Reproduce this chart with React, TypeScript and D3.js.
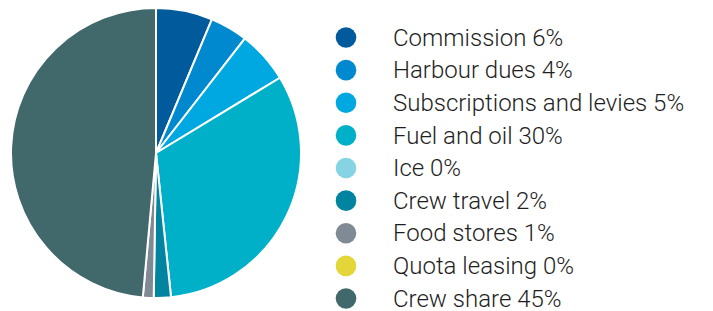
import React, { useEffect, useRef } from 'react';
import * as d3 from 'd3';

const categories = [
  'Commission', 'Harbour dues', 'Subscriptions and levies', 'Fuel and oil', 'Ice',
  'Crew travel', 'Food stores', 'Quota leasing', 'Crew share',
];
const shares = [6.3, 4.2, 5.8, 32.0, 0, 1.9, 1.2, 0, 48.5];
const shareLabels = ['6%', '4%', '5%', '30%', '0%', '2%', '1%', '0%', '45%'];
const colors = [
  '#005a9c', '#0089cf', '#00a8e1', '#00b0c8', '#86d3e3',
  '#00849f', '#7f8a94', '#e2d638', '#41686b',
];

const App: React.FC = () => {
  const svgRef = useRef<SVGSVGElement>(null);

  useEffect(() => {
    if (!svgRef.current) return;
    const svg = d3.select(svgRef.current);
    svg.selectAll('*').remove();

    const cx = 156;
    const cy = 153;
    const r = 145;

    const data = categories.map((name, i) => ({ name, value: shares[i], color: colors[i] }));

    const pie = d3.pie<any>().sort(null).value(d => d.value);
    const arc = d3.arc<any>().innerRadius(0).outerRadius(r);

    const g = svg.append('g').attr('transform', `translate(${cx},${cy})`);
    g.selectAll('path')
      .data(pie(data).filter(d => d.data.value > 0))
      .join('path')
      .attr('d', arc)
      .attr('fill', d => d.data.color)
      .attr('stroke', '#fff')
      .attr('stroke-width', 2)
      .attr('stroke-linejoin', 'round');

    // legend
    const rowY = d3.scaleLinear().domain([0, categories.length - 1]).range([37.5, 298.5]);
    const legend = svg.append('g');
    const rows = legend.selectAll('g')
      .data(data)
      .join('g')
      .attr('transform', (_, i) => `translate(346,${rowY(i)})`);

    rows.append('circle')
      .attr('r', 10.3)
      .attr('fill', d => d.color);

    rows.append('text')
      .attr('x', 47)
      .attr('y', 8.2)
      .text((d, i) => `${d.name} ${shareLabels[i]}`)
      .attr('fill', '#1e1e1e')
      .style('font-family', 'Roboto, sans-serif')
      .style('font-weight', 300)
      .style('font-size', '24px');
  }, []);

  return (
    <div style={{ position: 'absolute', left: 0, top: 0, width: 713, height: 311, background: '#fff' }}>
      <svg ref={svgRef} width={713} height={311} style={{ display: 'block' }} />
    </div>
  );
};

export default App;
